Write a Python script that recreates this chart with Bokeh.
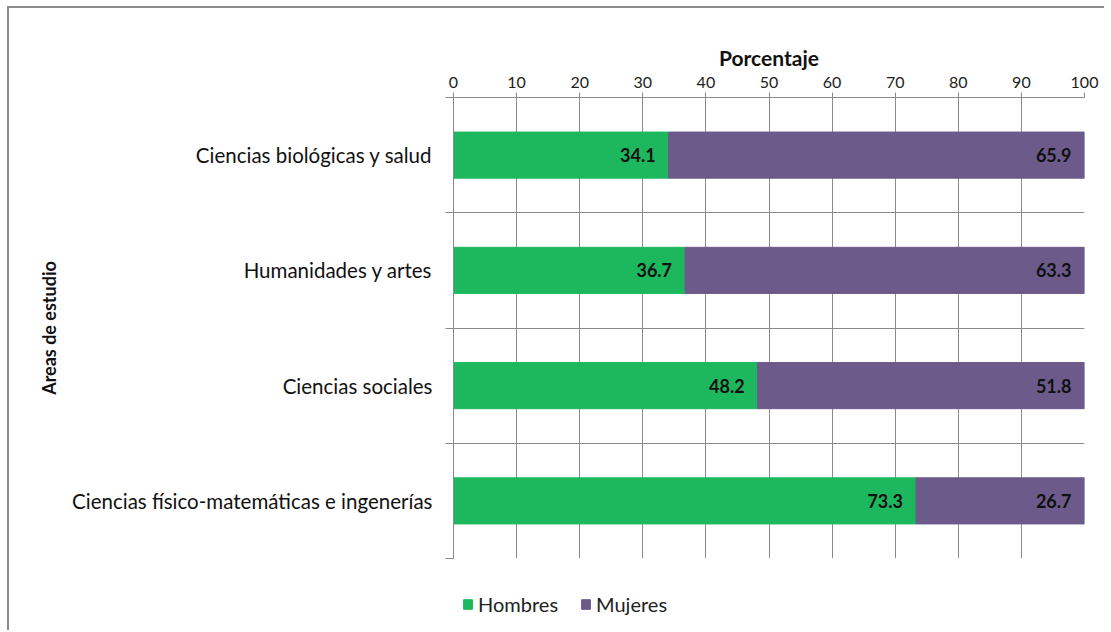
from bokeh.plotting import figure
from bokeh.models import (Range1d, FixedTicker, ColumnDataSource, Legend, LegendItem,
                          LabelSet)
from bokeh.layouts import column
from bokeh.embed import file_html
from bokeh.resources import INLINE
from bokeh.core.properties import value

categories = ["Ciencias biológicas y salud", "Humanidades y artes",
              "Ciencias sociales", "Ciencias físico-matemáticas e ingenerías"]
hombres = [34.1, 36.7, 48.2, 73.3]
mujeres = [65.9, 63.3, 51.8, 26.7]
x_ticks = [0, 10, 20, 30, 40, 50, 60, 70, 80, 90, 100]
series = ["Hombres", "Mujeres"]

GREEN = "#1db85e"
PURPLE = "#6b5a8a"
GRID = "#8a8a8a"
FONT = "Lato"
TXT = "#111111"

n = len(categories)
ypos = [n - 0.5 - i for i in range(n)]

src = ColumnDataSource(dict(
    y=ypos, h=hombres, m=mujeres,
    m_left=hombres, m_right=[a + b for a, b in zip(hombres, mujeres)],
    h_lab=[f"{v:.1f}" for v in hombres], m_lab=[f"{v:.1f}" for v in mujeres],
))

W = 1095
p = figure(width=W, height=562, output_backend="svg", toolbar_location=None,
           x_range=Range1d(0, 100), y_range=Range1d(0, n),
           x_axis_location="above",
           min_border_left=444, min_border_right=20, min_border_top=89,
           min_border_bottom=12)
p.outline_line_color = None
p.border_fill_color = "white"

rh = p.hbar(y="y", left=0, right="h", height=0.4, color=GREEN, source=src)
rm = p.hbar(y="y", left="m_left", right="m_right", height=0.4, color=PURPLE, source=src)

for xcol, tcol in (("h", "h_lab"), ("m_right", "m_lab")):
    p.add_layout(LabelSet(x=xcol, y="y", text=tcol, source=src, x_offset=-13,
                          text_align="right", text_baseline="middle",
                          text_font=value(FONT), text_font_style="bold",
                          text_font_size="18px", text_color=TXT))

# x axis (top)
xa = p.xaxis[0]
xa.ticker = FixedTicker(ticks=x_ticks, minor_ticks=[])
xa.axis_label = "Porcentaje"
xa.axis_label_text_font = FONT
xa.axis_label_text_font_style = "bold"
xa.axis_label_text_font_size = "21px"
xa.axis_label_text_color = TXT
xa.axis_label_standoff = 4
xa.major_label_text_font = FONT
xa.major_label_text_font_size = "16px"
xa.major_label_text_color = "#222222"
xa.major_label_standoff = 5
xa.axis_line_color = GRID
xa.major_tick_line_color = GRID
xa.major_tick_out = 5
xa.major_tick_in = 0

# y axis (left)
ya = p.yaxis[0]
ya.ticker = FixedTicker(ticks=ypos, minor_ticks=list(range(n + 1)))
ya.major_label_overrides = {y: c for y, c in zip(ypos, categories)}
ya.major_label_text_font = FONT
ya.major_label_text_font_size = "20.5px"
ya.major_label_text_color = TXT
ya.major_tick_line_color = None
ya.major_tick_out = 0
ya.major_tick_in = 0
ya.major_label_standoff = 13
ya.minor_tick_line_color = GRID
ya.minor_tick_out = 8
ya.minor_tick_in = 0
ya.axis_line_color = GRID
ya.axis_label = "Areas de estudio"
ya.axis_label_text_font = FONT
ya.axis_label_text_font_style = "bold"
ya.axis_label_text_font_size = "18px"
ya.axis_label_text_color = TXT
ya.axis_label_standoff = 9

p.xgrid.ticker = FixedTicker(ticks=x_ticks)
p.xgrid.grid_line_color = GRID
p.ygrid.ticker = FixedTicker(ticks=list(range(n + 1)))
p.ygrid.grid_line_color = GRID

# legend strip below the chart (its frame aligns with the chart's frame)
pl = figure(width=W, height=60, output_backend="svg", toolbar_location=None,
            x_range=Range1d(0, 100), y_range=Range1d(n + 10, n + 11),
            min_border=0)
pl.axis.visible = False
pl.grid.visible = False
pl.outline_line_color = None
pl.border_fill_color = "white"
pl.background_fill_color = None
lh = pl.hbar(y="y", left=0, right="h", height=0.4, color=GREEN, source=src)
lm = pl.hbar(y="y", left="m_left", right="m_right", height=0.4, color=PURPLE, source=src)
legend = Legend(items=[LegendItem(label=series[0], renderers=[lh]),
                       LegendItem(label=series[1], renderers=[lm])],
                orientation="horizontal", location=(9, 14),
                label_text_font=FONT, label_text_font_size="20px",
                label_text_color="#222222", glyph_width=11, glyph_height=12,
                label_standoff=5, spacing=22, padding=0, margin=0,
                border_line_color=None, background_fill_alpha=0)
pl.add_layout(legend, "center")

layout = column(p, pl, spacing=0)
layout.styles = {"border-left": "2px solid #8c8c8c", "border-top": "2px solid #8c8c8c",
                 "margin-left": "7px", "margin-top": "6px"}

open("out.html", "w").write(file_html(layout, INLINE))
